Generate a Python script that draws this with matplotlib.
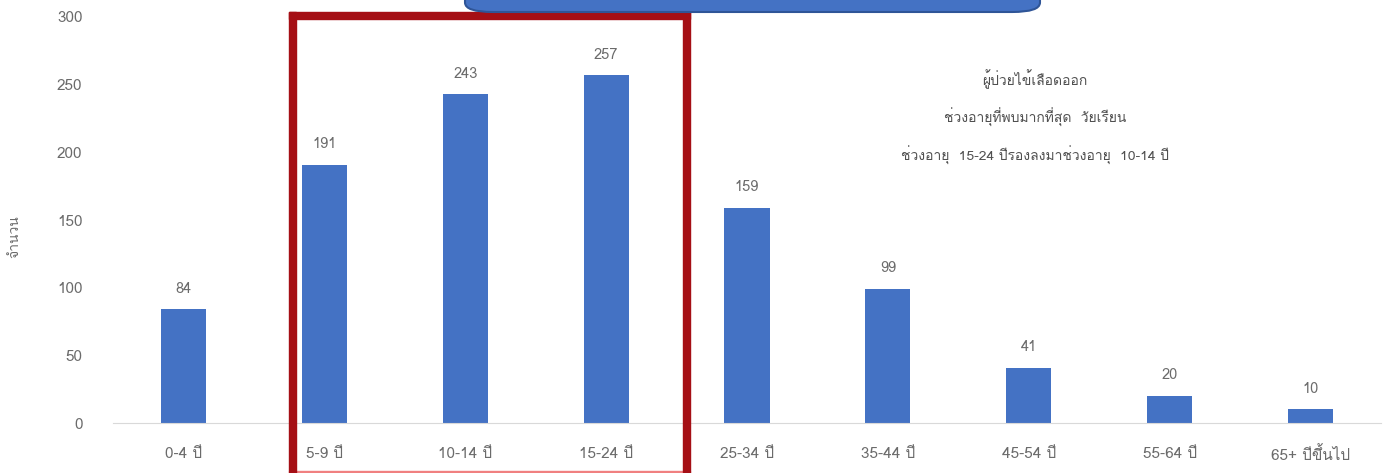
import matplotlib
matplotlib.use("Agg")
import matplotlib.pyplot as plt
from matplotlib import font_manager
from matplotlib.ft2font import FT2Font
from matplotlib.patches import Rectangle, FancyBboxPatch

categories = ["0-4 ปี", "5-9 ปี", "10-14 ปี", "15-24 ปี", "25-34 ปี",
              "35-44 ปี", "45-54 ปี", "55-64 ปี", "65+ ปีขึ้นไป"]
values = [84, 191, 243, 257, 159, 99, 41, 20, 10]
yticks = [0, 50, 100, 150, 200, 250, 300]
ylabel = "จำนวน"
note_lines = ["ผู้ป่วยไข้เลือดออก",
              "ช่วงอายุที่พบมากที่สุด  วัยเรียน",
              "ช่วงอายุ  15-24 ปีรองลงมาช่วงอายุ  10-14 ปี"]

# find a font that has Thai glyphs
thai_family = None
for f in font_manager.fontManager.ttflist:
    try:
        cmap = FT2Font(f.fname).get_charmap()
        if 0x0E01 in cmap and 0x0E1B in cmap:
            thai_family = f.name
            break
    except Exception:
        continue
fams = ([thai_family] if thai_family else []) + ["DejaVu Sans"]
plt.rcParams['font.family'] = fams

W, H = 1391, 473
fig = plt.figure(figsize=(W / 100, H / 100), dpi=100)
ax = fig.add_axes([113 / W, (H - 423) / H, (1381 - 113) / W, (423 - 17) / H])

gray = "#6b6b6b"
x = list(range(len(categories)))
bars = ax.bar(x, values, width=0.32, color="#4472C4", zorder=2)
for xi, v in zip(x, values):
    ax.text(xi, v + 10, str(v), ha="center", va="bottom", fontsize=10.5, color=gray)

ax.set_xlim(-0.5, len(categories) - 0.5)
ax.set_ylim(0, 300)
ax.set_yticks(yticks)
ax.set_xticks(x)
ax.set_xticklabels(categories, va="center_baseline")
ax.tick_params(axis="both", length=0, labelsize=11, colors=gray)
ax.tick_params(axis="x", pad=21.5)
ax.tick_params(axis="y", pad=22)
for s in ["top", "right", "left"]:
    ax.spines[s].set_visible(False)
ax.spines["bottom"].set_color("#d9d9d9")
ax.set_ylabel(ylabel, fontsize=10, color=gray)
ax.yaxis.set_label_coords(-0.072, 0.46)

# annotation text
for i, line in enumerate(note_lines):
    fig.text(1035 / W, 1 - (79 + i * 38) / H, line, ha="center", va="center",
             fontsize=10, color="#505050")

# red highlight rectangle (figure pixel coords)
red = "#A50F15"
fig.patches.append(Rectangle((289 / W, 0), 7 / W, (H - 12) / H, transform=fig.transFigure,
                             color=red, zorder=5))
fig.patches.append(Rectangle((683 / W, 0), 7 / W, (H - 12) / H, transform=fig.transFigure,
                             color=red, zorder=5))
fig.patches.append(Rectangle((289 / W, (H - 19) / H), 401 / W, 7 / H, transform=fig.transFigure,
                             color=red, zorder=5))
fig.patches.append(Rectangle((289 / W, (H - 472) / H), 401 / W, 1.5 / H, transform=fig.transFigure,
                             color="#f08080", zorder=4))

# blue title box (clipped at top)
fig.patches.append(FancyBboxPatch((465 / W, (H - 12) / H), 575 / W, 40 / H,
                                  boxstyle="round,pad=0,rounding_size=0.02",
                                  transform=fig.transFigure, facecolor="#4472C4",
                                  edgecolor="#2F5597", linewidth=1.5, zorder=5))

fig.savefig("out.png", dpi=100)
